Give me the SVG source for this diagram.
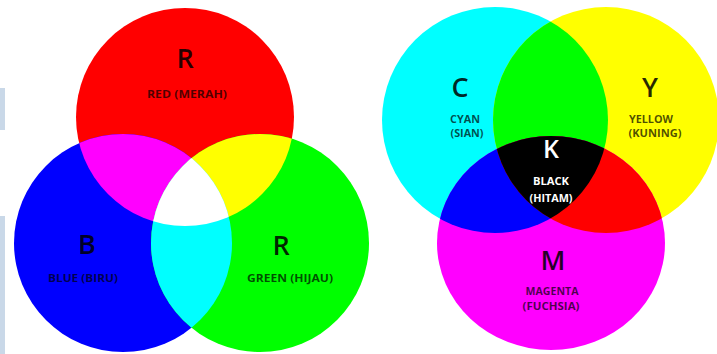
<svg xmlns="http://www.w3.org/2000/svg" width="717" height="354" viewBox="0 0 717 354">
<style>
.big{font-family:"Open Sans","Liberation Sans",sans-serif;font-weight:600;font-size:27px;text-anchor:middle;fill:#000;fill-opacity:0.85}
.lbl{font-family:"Open Sans","Liberation Sans",sans-serif;font-weight:700;font-size:10px;text-anchor:middle;fill:#000;fill-opacity:0.7}
.wbig{font-family:"Open Sans","Liberation Sans",sans-serif;font-weight:600;font-size:25px;text-anchor:middle;fill:#fff}
.wlbl{font-family:"Open Sans","Liberation Sans",sans-serif;font-weight:700;font-size:10px;text-anchor:middle;fill:#fff}
</style>
<defs>
<clipPath id="cR"><circle cx="185" cy="117" r="109"/></clipPath>
<clipPath id="cB"><circle cx="123" cy="243" r="109"/></clipPath>
<clipPath id="cC"><circle cx="495" cy="120" r="113"/></clipPath>
<clipPath id="cY"><circle cx="606" cy="120" r="113"/></clipPath>
</defs>
<rect width="717" height="354" fill="#ffffff"/>
<rect x="0" y="88" width="5" height="42" fill="#c9d8e8"/>
<rect x="0" y="216" width="5" height="138" fill="#c9d8e8"/>

<g id="rgb">
<g id="red"><circle cx="185" cy="117" r="109" fill="#ff0000"/></g>
<g id="blue"><circle cx="123" cy="243" r="109" fill="#0000ff"/></g>
<g id="green"><circle cx="260" cy="243" r="109" fill="#00ff00"/></g>
<g id="rgb-magenta" clip-path="url(#cR)"><circle cx="123" cy="243" r="109" fill="#ff00ff"/></g>
<g id="rgb-yellow" clip-path="url(#cR)"><circle cx="260" cy="243" r="109" fill="#ffff00"/></g>
<g id="rgb-cyan" clip-path="url(#cB)"><circle cx="260" cy="243" r="109" fill="#00ffff"/></g>
<g id="rgb-white" clip-path="url(#cR)"><g clip-path="url(#cB)"><circle cx="260" cy="243" r="109" fill="#ffffff"/></g></g>
<text class="big" x="185" y="68">R</text>
<text class="lbl" x="187" y="98" textLength="80" lengthAdjust="spacingAndGlyphs">RED (MERAH)</text>
<text class="big" x="87" y="254">B</text>
<text class="lbl" x="83" y="282" textLength="70" lengthAdjust="spacingAndGlyphs">BLUE (BIRU)</text>
<text class="big" x="281" y="255">R</text>
<text class="lbl" x="290" y="282" textLength="86" lengthAdjust="spacingAndGlyphs">GREEN (HIJAU)</text>
</g>

<g id="cmyk">
<g id="cyan"><circle cx="495" cy="120" r="113" fill="#00ffff"/></g>
<g id="yellow"><circle cx="606" cy="120" r="113" fill="#ffff00"/></g>
<g id="magenta"><ellipse cx="551" cy="243" rx="114" ry="107" fill="#ff00ff"/></g>
<g id="cmyk-green" clip-path="url(#cC)"><circle cx="606" cy="120" r="113" fill="#00ff00"/></g>
<g id="cmyk-blue" clip-path="url(#cC)"><ellipse cx="551" cy="243" rx="114" ry="107" fill="#0000ff"/></g>
<g id="cmyk-red" clip-path="url(#cY)"><ellipse cx="551" cy="243" rx="114" ry="107" fill="#ff0000"/></g>
<g id="cmyk-black" clip-path="url(#cC)"><g clip-path="url(#cY)"><ellipse cx="551" cy="243" rx="114" ry="107" fill="#000000"/></g></g>
<text class="big" x="460" y="97">C</text>
<text class="lbl" x="465" y="123" textLength="30" lengthAdjust="spacingAndGlyphs">CYAN</text>
<text class="lbl" x="467" y="137" textLength="33" lengthAdjust="spacingAndGlyphs">(SIAN)</text>
<text class="big" x="650" y="97">Y</text>
<text class="lbl" x="651" y="123" textLength="44" lengthAdjust="spacingAndGlyphs">YELLOW</text>
<text class="lbl" x="655" y="137" textLength="53" lengthAdjust="spacingAndGlyphs">(KUNING)</text>
<text class="wbig" x="551" y="158">K</text>
<text class="wlbl" x="551" y="185" textLength="36" lengthAdjust="spacingAndGlyphs">BLACK</text>
<text class="wlbl" x="551" y="202" textLength="43" lengthAdjust="spacingAndGlyphs">(HITAM)</text>
<text class="big" x="553" y="270">M</text>
<text class="lbl" x="552" y="295" textLength="53" lengthAdjust="spacingAndGlyphs">MAGENTA</text>
<text class="lbl" x="551" y="310" textLength="57" lengthAdjust="spacingAndGlyphs">(FUCHSIA)</text>
</g>
<g id="connectors"/>
</svg>
